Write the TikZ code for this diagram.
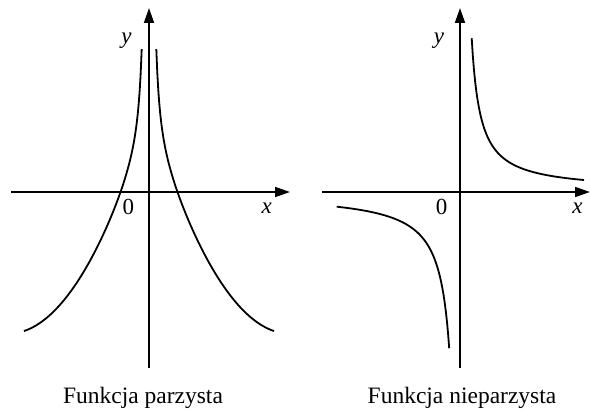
\documentclass[tikz,border=0pt]{standalone}
\usepackage{fontspec}
\setmainfont{Liberation Serif}
\usetikzlibrary{arrows.meta}
\begin{document}
\begin{tikzpicture}[x=1pt,y=-1pt,
  axisline/.style={line width=1.8pt,-{Triangle[length=15pt,width=10pt]}},
  curveline/.style={line width=1.8pt,line cap=butt},
  lbl/.style={font=\fontsize{23}{23}\selectfont,inner sep=0pt,anchor=base},
  captext/.style={font=\fontsize{23.5}{24}\selectfont,inner sep=0pt,anchor=base},
  declare function={evenf(\d)=4933/(\d*\d)+213.9*(1-\d/140)*(1-\d/140)-141.8;}]
\useasboundingbox (0,0) rectangle (590,409);
% ---------- left plot ----------
\coordinate (lxa) at (11,192);
\coordinate (lxb) at (290,192);
\coordinate (lya) at (149,368);
\coordinate (lyb) at (149,8);
\draw[axisline] (lxa) -- (lxb);
\draw[axisline] (lya) -- (lyb);
\draw[curveline] plot[domain=7.3:125,samples=120] ({149-\x},{192-evenf(\x)});
\draw[curveline] plot[domain=7.3:125,samples=120] ({149+\x},{192-evenf(\x)});
\node[lbl] (ly) at (126.5,44) {\itshape y};
\node[lbl] (lo) at (128.3,215) {0};
\node[lbl] (lx) at (266.7,214) {\itshape x};
\node[captext] (lc) at (143,403) {Funkcja parzysta};
% ---------- right plot ----------
\coordinate (rxa) at (322,192);
\coordinate (rxb) at (590,192);
\coordinate (rya) at (460,368);
\coordinate (ryb) at (460,8);
\draw[axisline] (rxa) -- (rxb);
\draw[axisline] (rya) -- (ryb);
\draw[curveline] plot[domain=11.7:124,samples=100] ({460+\x},{192-1329/(\x-3)-1});
\draw[curveline] plot[domain=10.8:123.3,samples=100] ({460-\x},{192+1675.6/\x+1.1});
\node[lbl] (ry) at (439,44) {\itshape y};
\node[lbl] (ro) at (441.7,215) {0};
\node[lbl] (rx) at (577.5,214) {\itshape x};
\node[captext] (rc) at (462,403) {Funkcja nieparzysta};
\end{tikzpicture}
\end{document}
